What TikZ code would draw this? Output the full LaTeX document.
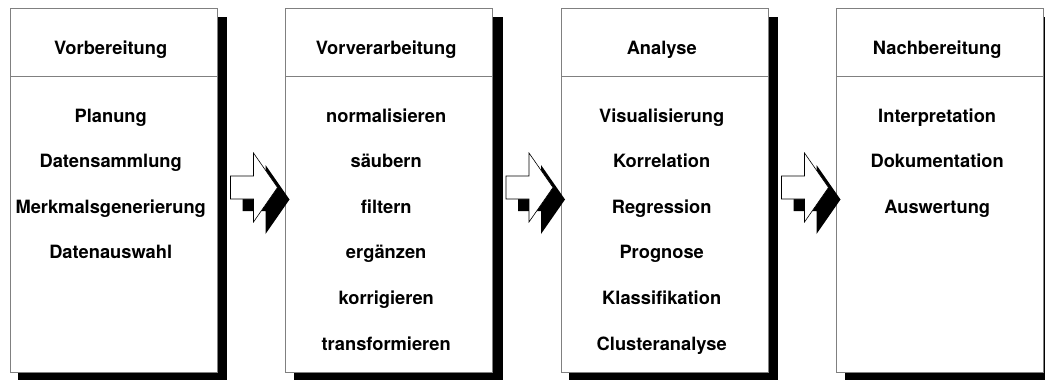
\documentclass[tikz,border=0pt]{standalone}
\usepackage{fontspec}
\setmainfont{TeX Gyre Heros}
\usetikzlibrary{calc}
\tikzset{
  box/.style={draw=black!50, line width=0.8pt, fill=white, minimum width=207pt, minimum height=364pt, anchor=north west, inner sep=0pt, outer sep=0pt},
  boxshadow/.style={fill=black},
  sepline/.style={draw=black!50, line width=0.8pt},
  lbl/.style={font=\bfseries\fontsize{18.3}{20}\selectfont, anchor=base, inner sep=0pt},
  arrowface/.style={draw=black, line width=0.6pt, fill=white},
  arrowshadow/.style={fill=black},
}
\newcommand{\stagearrow}[1]{%
  \fill[arrowshadow] ($(#1)+(-43,188)$) -- ++(23,0) -- ++(0,-23) -- ++(24,34.5) -- ++(-24,34.5) -- ++(0,-23) -- ++(-23,0) -- cycle;
  \filldraw[arrowface] ($(#1)+(-55,176)$) -- ++(23,0) -- ++(0,-23) -- ++(24,34.5) -- ++(-24,34.5) -- ++(0,-23) -- ++(-23,0) -- cycle;
}
\begin{document}
\begin{tikzpicture}[x=1pt,y=-1pt]
\useasboundingbox (0,0) rectangle (1045,380);
\foreach \i/\x in {1/10,2/285.5,3/561,4/836.5}{
  \fill[boxshadow] (\x+8,17) rectangle (\x+217,381);
  \node[box] (b\i) at (\x,8) {};
  \draw[sepline] ($(b\i.north west)+(0,68)$) -- ($(b\i.north east)+(0,68)$);
  \coordinate (c\i) at (\x+100.7,0);
}
% arrows
\foreach \i in {2,3,4}{
  \coordinate (a\i) at (b\i.north west |- 0,0);
  \stagearrow{a\i}
}
% headers
\node[lbl] (h1) at (c1 |- 0,54) {Vorbereitung};
\node[lbl] (h2) at (c2 |- 0,54) {Vorverarbeitung};
\node[lbl] (h3) at (c3 |- 0,54) {Analyse};
\node[lbl] (h4) at (c4 |- 0,54) {Nachbereitung};
% items
\foreach \t [count=\k] in {Planung,Datensammlung,Merkmalsgenerierung,Datenauswahl}{
  \node[lbl] (p1-\k) at (c1 |- 0,{122+45.6*(\k-1)}) {\t};
}
\foreach \t [count=\k] in {normalisieren,säubern,filtern,ergänzen,korrigieren,transformieren}{
  \node[lbl] (p2-\k) at (c2 |- 0,{122+45.6*(\k-1)}) {\t};
}
\foreach \t [count=\k] in {Visualisierung,Korrelation,Regression,Prognose,Klassifikation,Clusteranalyse}{
  \node[lbl] (p3-\k) at (c3 |- 0,{122+45.6*(\k-1)}) {\t};
}
\foreach \t [count=\k] in {Interpretation,Dokumentation,Auswertung}{
  \node[lbl] (p4-\k) at (c4 |- 0,{122+45.6*(\k-1)}) {\t};
}
\end{tikzpicture}
\end{document}
